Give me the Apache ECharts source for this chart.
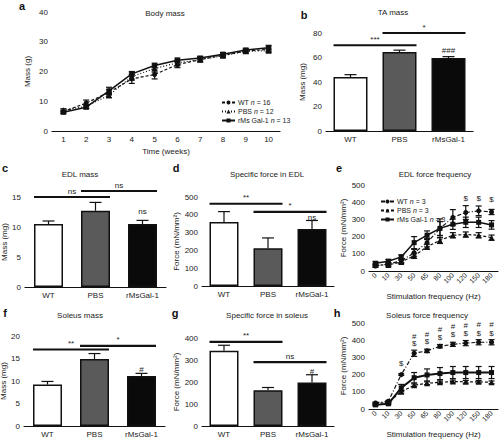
<!DOCTYPE html>
<html><head><meta charset="utf-8">
<script src="https://cdn.jsdelivr.net/npm/echarts@6/dist/echarts.min.js"></script>
<style>html,body{margin:0;padding:0;background:#fff}#c{width:504px;height:439px}</style>
</head><body><div id="c"></div>
<script>
// ---------- data ----------
const weeks = ['1','2','3','4','5','6','7','8','9','10'];
const bodyWT     = [6.5, 9.4, 13.0, 17.5, 19.0, 22.3, 24.0, 25.5, 26.8, 27.5];
const bodyWTErr  = [0.5, 1.0, 0.9, 1.5, 1.5, 1.0, 0.8, 0.7, 0.7, 0.8];
const bodyPBS    = [7.0, 8.3, 12.0, 18.3, 21.0, 22.9, 24.0, 25.3, 26.8, 27.0];
const bodyPBSErr = [0.5, 0.6, 0.8, 1.2, 1.2, 1.0, 0.7, 0.6, 0.6, 0.6];
const bodyRMs    = [6.3, 8.0, 13.5, 19.2, 22.0, 23.8, 24.5, 25.8, 27.2, 28.0];
const bodyRMsErr = [0.5, 0.5, 1.2, 0.8, 0.8, 0.7, 0.6, 0.6, 0.6, 0.8];

const groups = ['WT', 'PBS', 'rMsGal-1'];
const taMass = [44, 64.5, 59.5];           const taMassErr = [2, 1.5, 1.2];
const edlMass = [10.5, 12.7, 10.5];        const edlMassErr = [0.5, 1.4, 0.6];
const edlForce = [360, 212, 320];          const edlForceErr = [58, 58, 48];
const soleusMass = [9.2, 14.9, 11.1];      const soleusMassErr = [0.7, 1.2, 0.6];
const soleusForce = [342, 163, 198];       const soleusForceErr = [25, 12, 35];

const freqs = ['0','10','30','50','65','80','100','120','150','180'];
const edlWT     = [29, 41, 59, 106, 165, 247, 312, 340, 350, 343];
const edlWTErr  = [8, 8, 10, 20, 25, 40, 45, 40, 28, 15];
const edlPBS    = [35, 35, 53, 88, 141, 178, 208, 212, 208, 194];
const edlPBSErr = [8, 8, 10, 15, 15, 18, 15, 15, 15, 15];
const edlRMs    = [45, 57, 82, 165, 208, 248, 272, 283, 283, 268];
const edlRMsErr = [10, 10, 12, 35, 25, 55, 30, 30, 30, 25];

const solWT     = [35, 45, 200, 324, 338, 365, 376, 383, 388, 388];
const solWTErr  = [5, 5, 5, 18, 10, 10, 12, 15, 15, 15];
const solPBS    = [30, 40, 100, 138, 150, 155, 160, 158, 158, 155];
const solPBSErr = [5, 5, 8, 8, 8, 8, 8, 8, 8, 8];
const solRMs    = [24, 30, 123, 182, 198, 206, 212, 212, 212, 212];
const solRMsErr = [5, 5, 20, 30, 35, 35, 35, 35, 35, 35];

// significance annotations: [fromCategory, toCategory, value]
const taBrackets = [[0, 1, 70], [1, 2, 80]];          const taBracketText = ['***', '*'];
const taMarks = [[2, 66]];                             const taMarkText = ['###'];
const edlMassBrackets = [[0, 1, 15], [1, 2, 16]];      const edlMassBracketText = ['ns', 'ns'];
const edlMassMarks = [[2, 12.6]];                      const edlMassMarkText = ['ns'];
const edlForceBrackets = [[0, 1, 462], [1, 2, 416]];   const edlForceBracketText = ['**', '*'];
const edlForceMarks = [[2, 385]];                      const edlForceMarkText = ['ns'];
const solMassBrackets = [[0, 1, 17], [1, 2, 17.8]];    const solMassBracketText = ['**', '*'];
const solMassMarks = [[2, 12.6]];                      const solMassMarkText = ['#'];
const solForceBrackets = [[0, 1, 382], [1, 2, 290]];   const solForceBracketText = ['**', 'ns'];
const solForceMarks = [[2, 248]];                      const solForceMarkText = ['#'];

const edlFreqMarks = [[7, 420], [8, 420], [9, 415]];   const edlFreqMarkText = ['$', '$', '$'];
const solFreqMarks = [[2, 262], [3, 378], [4, 390], [5, 418], [6, 435], [7, 438], [8, 441], [9, 441],
                      [3, 424], [4, 436], [5, 465], [6, 482], [7, 485], [8, 494], [9, 494]];
const solFreqMarkText = ['$','$','$','$','$','$','$','$','#','#','#','#','#','#','#'];

// ---------- chart ----------
const FONT = 'Liberation Sans';
const INK = '#111';
const barColors = ['#ffffff', '#5a5a5a', '#0a0a0a'];
const chart = echarts.init(document.getElementById('c'), null, {renderer: 'svg', width: 504, height: 439});

const grids = [], xAxes = [], yAxes = [], series = [], legends = [], graphics = [];

function axisBase() {
  return {
    axisLine: {lineStyle: {color: INK, width: 1.2}},
    axisTick: {lineStyle: {color: INK, width: 1}, length: 3},
    axisLabel: {color: '#222', fontSize: 8, fontFamily: FONT, margin: 4},
    splitLine: {show: false},
    nameTextStyle: {color: '#222', fontSize: 8, fontFamily: FONT}
  };
}
function addPanel(g, cats, ymax, yint, yname, ygap, xname, xgap, rot) {
  grids.push({left: g[0], top: g[1], width: g[2], height: g[3], containLabel: false, outerBoundsMode: 'none'});
  const gi = grids.length - 1;
  const xa = Object.assign(axisBase(), {gridIndex: gi, type: 'category', data: cats, boundaryGap: true});
  xa.axisTick.alignWithLabel = true;
  xa.axisTick.interval = 0;
  xa.axisLabel.interval = 0;
  if (rot) { xa.axisLabel.rotate = 45; xa.axisLabel.fontSize = 7; xa.axisLabel.margin = 3; }
  if (xname) { xa.name = xname; xa.nameLocation = 'middle'; xa.nameGap = xgap; }
  xAxes.push(xa);
  const ya = Object.assign(axisBase(), {gridIndex: gi, type: 'value', min: 0, max: ymax, interval: yint,
    name: yname, nameLocation: 'middle', nameGap: ygap, nameRotate: 90});
  yAxes.push(ya);
  return gi;
}
function errSeries(gi, vals, errs, cap, both, z) {
  series.push({
    type: 'custom', xAxisIndex: gi, yAxisIndex: gi, z: z || 4, silent: true,
    data: vals.map((v, i) => [i, v, errs[i]]),
    renderItem: (params, api) => {
      const x = api.value(0), m = api.value(1), e = api.value(2);
      const top = api.coord([x, m + e]);
      const bot = api.coord([x, both ? m - e : m]);
      const st = {stroke: INK, lineWidth: 1.2};
      return {type: 'group', children: [
        {type: 'line', shape: {x1: top[0], y1: top[1], x2: bot[0], y2: bot[1]}, style: st},
        {type: 'line', shape: {x1: top[0] - cap, y1: top[1], x2: top[0] + cap, y2: top[1]}, style: st},
        both ? {type: 'line', shape: {x1: bot[0] - cap, y1: bot[1], x2: bot[0] + cap, y2: bot[1]}, style: st} : null
      ].filter(Boolean)};
    }
  });
}
function textSeries(gi, marks, texts) {
  series.push({
    type: 'custom', xAxisIndex: gi, yAxisIndex: gi, z: 5, silent: true,
    data: marks,
    renderItem: (params, api) => {
      const p = api.coord([api.value(0), api.value(1)]);
      return {type: 'text', x: p[0], y: p[1], style: {text: texts[params.dataIndex], align: 'center',
        verticalAlign: 'middle', fontSize: 8, fontFamily: FONT, fill: '#222'}};
    }
  });
}
function bracketSeries(gi, brackets, texts, halfW) {
  series.push({
    type: 'custom', xAxisIndex: gi, yAxisIndex: gi, z: 5, silent: true,
    data: brackets,
    encode: {x: 0, y: 2},
    renderItem: (params, api) => {
      const y = api.value(2);
      const p1 = api.coord([api.value(0), y]);
      const p2 = api.coord([api.value(1), y]);
      const x1 = p1[0] - halfW, x2 = p2[0] + halfW;
      return {type: 'group', children: [
        {type: 'line', shape: {x1: x1, y1: p1[1], x2: x2, y2: p1[1]}, style: {stroke: INK, lineWidth: 2.2}},
        {type: 'text', x: (x1 + x2) / 2, y: p1[1] - 2, style: {text: texts[params.dataIndex], align: 'center',
          verticalAlign: 'bottom', fontSize: 8, fontFamily: FONT, fill: '#222'}}
      ]};
    }
  });
}
function barPanel(g, ymax, yint, yname, ygap, vals, errs, barW, brackets, btexts, marks, mtexts) {
  const gi = addPanel(g, groups, ymax, yint, yname, ygap);
  series.push({
    type: 'bar', xAxisIndex: gi, yAxisIndex: gi, barWidth: barW, z: 2, silent: true,
    data: vals.map((v, i) => ({value: v, itemStyle: {color: barColors[i]}})),
    itemStyle: {borderColor: INK, borderWidth: 1.5}
  });
  errSeries(gi, vals, errs, 6, false, 3);
  bracketSeries(gi, brackets, btexts, barW / 2);
  textSeries(gi, marks, mtexts);
}
function lineSeries(gi, name, vals, errs, symbol, dash, width) {
  series.push({
    type: 'line', name: name, xAxisIndex: gi, yAxisIndex: gi, data: vals, z: 3, silent: true,
    symbol: symbol, symbolSize: symbol === 'triangle' ? 6 : 5, showSymbol: true,
    lineStyle: {color: INK, width: width || 1.2, type: dash},
    itemStyle: {color: INK}
  });
  errSeries(gi, vals, errs, 3, true, 4);
}
function legendFor(names, left, top) {
  legends.push({
    data: names, left: left, top: top, orient: 'vertical', itemWidth: 13, itemHeight: 5, itemGap: 2,
    padding: 0, selectedMode: false,
    textStyle: {fontSize: 7, fontFamily: FONT, color: '#222', padding: [0, 0, 0, -2],
      rich: {i: {fontStyle: 'italic', fontSize: 7, fontFamily: FONT, color: '#222'}}},
    formatter: n => n.replace(' (sol)', '').replace(' n = ', ' {i|n} = ')
  });
}

// a: Body mass
const ga = addPanel([52, 12, 228, 119], weeks, 40, 10, 'Mass (g)', 21, 'Time (weeks)', 16);
lineSeries(ga, 'WT n = 16', bodyWT, bodyWTErr, 'circle', [3, 2]);
lineSeries(ga, 'PBS n = 12', bodyPBS, bodyPBSErr, 'triangle', [1, 2]);
lineSeries(ga, 'rMs Gal-1 n = 13', bodyRMs, bodyRMsErr, 'rect', 'solid', 1.5);
legendFor(['WT n = 16', 'PBS n = 12', 'rMs Gal-1 n = 13'], 221, 99);

// b: TA mass
barPanel([326, 33, 147, 98], 80, 20, 'Mass (mg)', 20, taMass, taMassErr, 34, taBrackets, taBracketText, taMarks, taMarkText);
// c: EDL mass
barPanel([25, 197, 141, 90], 15, 5, 'Mass (mg)', 15, edlMass, edlMassErr, 29, edlMassBrackets, edlMassBracketText, edlMassMarks, edlMassMarkText);
// d: Specific force in EDL
barPanel([202, 197, 132, 89], 500, 100, 'Force (mN/mm²)', 20, edlForce, edlForceErr, 29, edlForceBrackets, edlForceBracketText, edlForceMarks, edlForceMarkText);
// e: EDL force frequency
const ge = addPanel([369, 185, 129, 86], freqs, 500, 100, 'Force (mN/mm²)', 20, 'Stimulation frequency (Hz)', 21, true);
lineSeries(ge, 'WT n = 3', edlWT, edlWTErr, 'circle', [4, 2, 1, 2]);
lineSeries(ge, 'PBS n = 3', edlPBS, edlPBSErr, 'triangle', [3, 2]);
lineSeries(ge, 'rMs Gal-1 n = 3', edlRMs, edlRMsErr, 'rect', 'solid', 1.5);
textSeries(ge, edlFreqMarks, edlFreqMarkText);
legendFor(['WT n = 3', 'PBS n = 3', 'rMs Gal-1 n = 3'], 380, 198);
// f: Soleus mass
barPanel([24, 336, 141, 90], 20, 5, 'Mass (mg)', 15, soleusMass, soleusMassErr, 29, solMassBrackets, solMassBracketText, solMassMarks, solMassMarkText);
// g: Specific force in soleus
barPanel([202, 338, 132, 88], 400, 100, 'Force (mN/mm²)', 20, soleusForce, soleusForceErr, 29, solForceBrackets, solForceBracketText, solForceMarks, solForceMarkText);
// h: Soleus force frequency
const gh = addPanel([369, 323, 129, 86], freqs, 500, 100, 'Force (mN/mm²)', 20, 'Stimulation frequency (Hz)', 21, true);
lineSeries(gh, 'WT n = 3 (sol)', solWT, solWTErr, 'circle', [4, 2, 1, 2]);
lineSeries(gh, 'PBS n = 3 (sol)', solPBS, solPBSErr, 'triangle', [3, 2]);
lineSeries(gh, 'rMs Gal-1 n = 3 (sol)', solRMs, solRMsErr, 'rect', 'solid', 2);
textSeries(gh, solFreqMarks, solFreqMarkText);

// titles and panel letters
const titles = [['Body mass', 165, 13], ['TA mass', 393, 12], ['EDL mass', 80, 174], ['Specific force in EDL', 267, 174],
  ['EDL force frequency', 435, 174], ['Soleus mass', 80, 315], ['Specific force in soleus', 267, 315], ['Soleus force frequency', 427, 315]];
titles.forEach(t => graphics.push({type: 'text', x: t[1], y: t[2], style: {text: t[0], align: 'center', verticalAlign: 'middle',
  fontSize: 8, fontFamily: FONT, fill: '#222'}}));
const letters = [['a', 22, 6], ['b', 304, 15], ['c', 5, 168], ['d', 176, 168], ['e', 339, 168], ['f', 5, 313], ['g', 175, 313], ['h', 337, 313]];
letters.forEach(t => graphics.push({type: 'text', x: t[1], y: t[2], style: {text: t[0], align: 'center', verticalAlign: 'middle',
  fontSize: 11, fontWeight: 'bold', fontFamily: FONT, fill: '#111'}}));

chart.setOption({
  animation: false,
  backgroundColor: '#fff',
  grid: grids, xAxis: xAxes, yAxis: yAxes, series: series, legend: legends, graphic: graphics
});
</script></body></html>
